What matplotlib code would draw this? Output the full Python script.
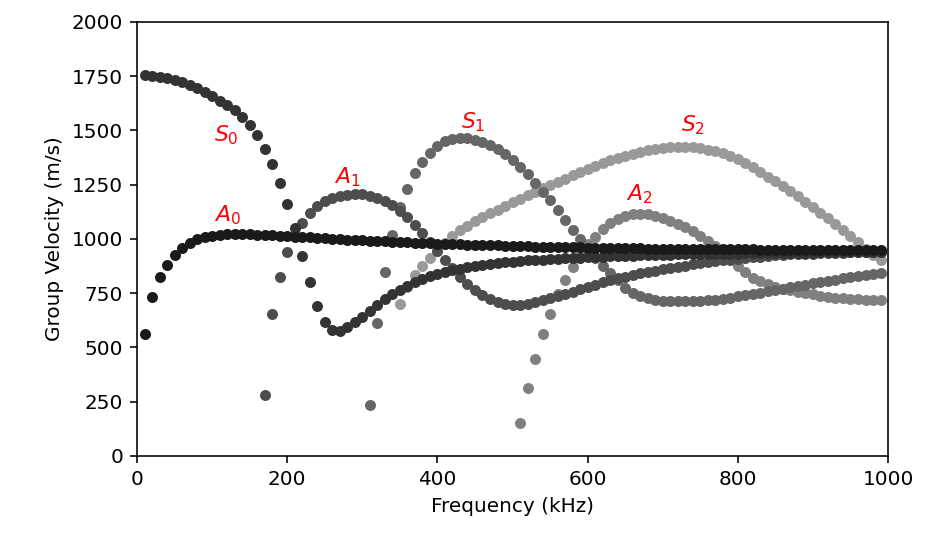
import matplotlib
matplotlib.use("Agg")
import matplotlib.pyplot as plt

# frequency grid of the dispersion solver (kHz)
freq = [10, 20, 30, 40, 50, 60, 70, 80, 90, 100,
        110, 120, 130, 140, 150, 160, 170, 180, 190, 200,
        210, 220, 230, 240, 250, 260, 270, 280, 290, 300,
        310, 320, 330, 340, 350, 360, 370, 380, 390, 400,
        410, 420, 430, 440, 450, 460, 470, 480, 490, 500,
        510, 520, 530, 540, 550, 560, 570, 580, 590, 600,
        610, 620, 630, 640, 650, 660, 670, 680, 690, 700,
        710, 720, 730, 740, 750, 760, 770, 780, 790, 800,
        810, 820, 830, 840, 850, 860, 870, 880, 890, 900,
        910, 920, 930, 940, 950, 960, 970, 980, 990]

# group velocities (m/s), each mode runs from its cutoff up to 990 kHz
A0 = [562, 733, 825, 880, 928, 957, 980, 998, 1009, 1015,
      1019, 1021, 1022, 1022, 1021, 1020, 1019, 1017, 1015, 1013,
      1011, 1009, 1007, 1005, 1003, 1001, 999, 997, 995, 994,
      992, 990, 989, 987, 986, 984, 983, 981, 980, 979,
      977, 976, 975, 974, 973, 972, 971, 970, 969, 968,
      967, 966, 965, 965, 964, 963, 962, 962, 961, 960,
      960, 959, 959, 958, 958, 957, 957, 956, 956, 955,
      955, 955, 954, 954, 954, 953, 953, 953, 952, 952,
      952, 952, 951, 951, 951, 951, 950, 950, 950, 950,
      950, 949, 949, 949, 949, 949, 949, 948, 948]

S0 = [1756, 1751, 1745, 1740, 1733, 1722, 1710, 1694, 1679, 1659,
      1637, 1618, 1593, 1564, 1527, 1478, 1415, 1345, 1258, 1163,
      1050, 922, 800, 691, 619, 581, 577, 594, 617, 642,
      668, 696, 722, 745, 766, 785, 801, 815, 828, 839,
      848, 856, 863, 869, 875, 880, 884, 888, 892, 895,
      898, 901, 903, 905, 907, 909, 911, 913, 914, 916,
      917, 919, 920, 921, 922, 923, 924, 925, 926, 927,
      928, 929, 930, 930, 931, 931, 932, 932, 933, 933,
      934, 934, 935, 935, 936, 936, 936, 937, 937, 937,
      938, 938, 938, 939, 939, 939, 940, 940, 940]

A1 = [281, 654, 825, 940,
      1020, 1075, 1118, 1152, 1175, 1190, 1199, 1204, 1206, 1205,
      1200, 1190, 1175, 1155, 1130, 1100, 1066, 1028, 985, 945,
      905, 866, 826, 793, 766, 743, 724, 710, 701, 697,
      697, 700, 709, 719, 727, 736, 746, 757, 768, 779,
      790, 800, 810, 819, 827, 834, 841, 848, 854, 860,
      866, 872, 877, 883, 888, 893, 897, 901, 905, 909,
      913, 916, 919, 922, 925, 927, 929, 931, 932, 933,
      934, 935, 936, 937, 938, 938, 939, 939, 940]

S1 = [235, 614, 847, 1020, 1148, 1230, 1303, 1357, 1398, 1430,
      1450, 1461, 1465, 1464, 1458, 1447, 1432, 1414, 1392, 1365,
      1333, 1298, 1260, 1218, 1180, 1135, 1088, 1042, 1000, 955,
      912, 876, 845, 810, 776, 752, 738, 728, 720, 715,
      713, 712, 712, 713, 715, 718, 721, 725, 730, 735,
      741, 747, 753, 759, 765, 771, 777, 783, 789, 795,
      801, 807, 813, 818, 823, 828, 833, 838, 842]

A2 = [151, 315, 445, 560, 655, 745, 810, 870, 925, 975,
      1010, 1045, 1072, 1092, 1106, 1114, 1117, 1115, 1108, 1097,
      1084, 1070, 1053, 1035, 1015, 992, 966, 937, 906, 875,
      846, 822, 805, 791, 779, 770, 763, 756, 750, 745,
      739, 734, 730, 727, 724, 722, 721, 720, 720]

S2 = [700, 778, 834, 876, 911, 945, 980, 1012, 1040, 1062,
      1082, 1100, 1118, 1135, 1151, 1170, 1186, 1202, 1218, 1233,
      1248, 1263, 1278, 1293, 1310, 1323, 1336, 1349, 1362, 1372,
      1383, 1393, 1401, 1408, 1414, 1419, 1422, 1424, 1424, 1422,
      1418, 1412, 1405, 1395, 1383, 1368, 1351, 1330, 1307, 1287,
      1266, 1245, 1222, 1197, 1172, 1148, 1122, 1095, 1067, 1040,
      1013, 985, 955, 928, 902]

modes = {"S2": S2, "A2": A2, "S1": S1, "A1": A1, "S0": S0, "A0": A0}
shades = {"A0": "0.1", "S0": "0.2", "A1": "0.3", "S1": "0.4", "A2": "0.5", "S2": "0.6"}

# label anchors (kHz, m/s)
label_pos = {"S0": (119, 1479), "A0": (120, 1111), "A1": (280, 1286),
             "S1": (448, 1539), "A2": (669, 1207), "S2": (741, 1525)}

fig = plt.figure(figsize=(929 / 144, 536 / 144), dpi=144)
ax = fig.add_axes([0.1475, 0.1493, 0.8084, 0.8097])

for name, v in modes.items():
    f = freq[-len(v):]
    ax.plot(f, v, 'o', ms=5.5, mew=0, color=shades[name], zorder=2)

for name, (x, y) in label_pos.items():
    ax.text(x, y, '$%s_%s$' % (name[0], name[1]), color='red', fontsize=11,
            ha='center', va='center')

ax.set_xlim(0, 1000)
ax.set_ylim(0, 2000)
ax.set_xticks([0, 200, 400, 600, 800, 1000])
ax.set_yticks([0, 250, 500, 750, 1000, 1250, 1500, 1750, 2000])
ax.set_xlabel('Frequency (kHz)')
ax.set_ylabel('Group Velocity (m/s)')

fig.savefig('out.png', dpi=144)
